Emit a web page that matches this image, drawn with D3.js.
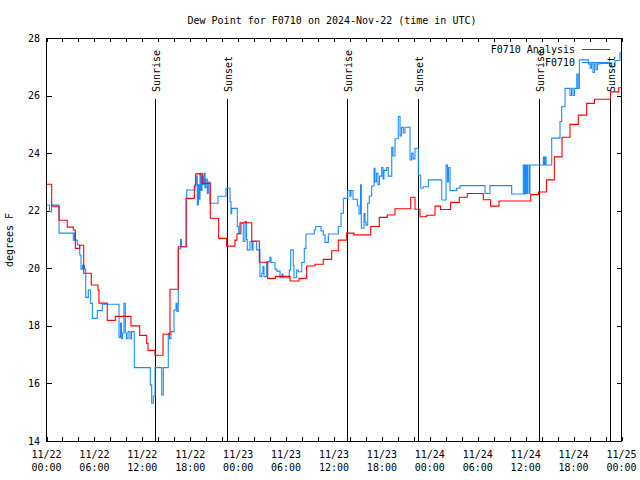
<!DOCTYPE html>
<html><head><meta charset="utf-8">
<script src="https://cdn.jsdelivr.net/npm/d3@7/dist/d3.min.js"></script>
<style>body{margin:0;background:#fff}svg{display:block}</style>
</head><body>
<svg id="c" width="640" height="480"></svg>
<script>
const titleText = "Dew Point for F0710 on 2024-Nov-22 (time in UTC)";
const yAxisLabel = "degrees F";
const startUTC = Date.UTC(2024, 10, 22, 0, 0);
const spanHours = 72;
const yTicks = [14, 16, 18, 20, 22, 24, 26, 28];
const legendLabels = ["F0710 Analysis", "F0710"];

// Analysis (red) – hours since 11/22 00:00 UTC, step values (°F)
const analysisHours = [0,0.65,1.57,2.60,3.36,3.61,4.16,4.66,5.61,6.45,6.57,7.61,8.62,10.58,11.67,12.55,12.71,13.59,14.59,15.46,16.50,17.47,18.51,18.68,19.51,20.51,21.56,22.56,23.60,23.85,24.23,25.70,26.65,27.70,28.65,30.49,31.62,32.58,33.62,34.66,35.71,36.54,37.59,38.50,40.60,41.67,42.67,43.64,45.61,46.14,46.77,47.61,48.65,49.34,50.61,51.69,52.69,54.69,55.62,56.66,60.63,61.61,62.61,63.59,64.55,65.55,66.59,67.64,68.62,70.62,71.65];
const analysisValues = [22.92,22.16,21.67,21.43,21.33,20.69,20.8,19.83,19.42,19.24,18.79,18.19,18.33,18.0,17.67,17.39,17.15,16.98,17.71,19.27,20.75,22.43,22.86,23.28,22.95,21.74,21.04,20.77,20.98,21.2,21.58,20.95,20.21,19.65,19.72,19.56,19.65,20.08,20.14,20.31,20.61,20.98,21.22,21.16,21.45,21.77,21.85,22.07,22.47,22.05,21.79,21.84,22.16,22.04,22.29,22.47,22.6,22.38,22.16,22.34,22.56,22.65,23.07,23.87,24.55,25.0,25.32,25.73,25.87,26.13,26.27];

// Observations (blue)
const obsHours = [0,0.38,0.63,1.57,3.36,3.51,3.63,3.86,4.16,4.32,4.51,4.76,4.91,5.23,5.53,5.74,6.36,6.99,9.08,9.27,9.39,9.52,9.70,9.87,10.02,10.21,10.46,10.64,10.99,13.00,13.17,13.37,13.59,14.43,14.63,15.25,15.40,15.59,15.97,16.22,16.34,16.50,16.80,16.90,17.56,18.60,18.72,18.88,19.01,19.10,19.22,19.35,19.47,19.60,19.72,19.85,19.97,20.14,20.26,20.47,21.48,22.48,22.98,23.10,23.19,23.89,24.07,24.36,24.64,24.86,25.04,25.14,25.48,25.73,25.86,26.32,26.73,26.95,27.11,27.23,27.57,27.99,28.11,28.61,28.83,29.24,29.49,29.61,30.40,30.58,30.90,30.99,31.33,31.53,31.96,32.28,32.49,33.53,33.71,34.37,34.66,34.87,35.29,36.54,36.88,37.17,37.72,38.00,38.13,38.38,38.92,39.13,39.32,39.42,39.76,39.88,40.01,40.22,40.42,40.72,41.01,41.13,41.32,41.51,41.70,41.97,42.14,42.26,42.60,42.80,43.23,43.39,43.64,44.05,44.27,44.45,44.68,44.89,45.52,45.73,45.90,46.14,46.56,46.86,47.18,47.81,49.49,50.03,50.21,50.34,50.53,51.36,51.78,54.91,55.53,58.25,59.70,59.85,59.98,60.11,60.23,60.42,60.54,62.21,62.30,62.42,62.55,63.26,64.30,64.51,64.93,65.55,65.74,65.93,66.12,66.40,66.56,66.72,67.84,68.06,68.24,68.43,68.62,68.81,69.00,69.31,70.56,71.18,71.81];
const obsValues = [22.2,21.97,22.2,21.22,20.98,21.22,20.98,20.81,20.46,19.97,20.1,19.97,18.99,19.24,18.78,18.26,18.53,18.75,17.6,18.1,17.55,17.75,18.78,17.75,17.55,17.8,17.55,17.8,16.55,15.95,15.31,15.56,16.55,15.6,16.55,17.74,17.55,17.8,18.55,18.78,18.5,20.67,21.0,20.75,22.72,22.9,23.2,22.2,22.9,22.4,23.3,22.7,23.2,22.9,23.3,22.8,23.1,22.6,23.0,22.26,22.5,22.78,22.31,21.9,22.08,21.45,21.2,21.56,20.93,21.62,21.0,20.64,20.93,20.64,20.93,20.64,19.71,19.83,20.06,19.71,20.23,20.38,20.2,19.97,19.9,19.67,19.8,19.67,19.94,20.64,20.1,19.67,19.94,19.88,20.2,20.69,21.19,21.33,21.45,21.3,21.16,20.9,21.19,21.45,21.91,22.43,22.7,22.5,22.7,22.4,22.17,21.9,22.9,21.39,21.9,21.6,21.5,22.26,22.51,22.86,23.47,23.0,23.3,22.9,23.2,23.5,23.1,23.4,23.5,23.2,24.2,23.9,24.5,25.27,24.6,24.9,24.7,24.9,23.76,24.0,23.8,24.17,23.24,22.78,22.83,23.07,22.37,23.59,23.0,23.5,22.7,22.78,22.87,22.6,22.87,22.58,23.59,22.58,23.59,22.6,23.59,22.6,23.59,23.86,23.59,23.86,23.59,24.52,25.1,25.61,26.25,26.0,26.25,26.0,26.25,26.75,26.25,27.24,27.1,26.95,27.1,26.8,27.1,26.9,27.1,27.12,27.0,27.22,27.49];

const sunEventHours = [13.59, 22.56, 37.67, 46.56, 61.71, 70.56];
const sunEventLabels = ["Sunrise", "Sunset", "Sunrise", "Sunset", "Sunrise", "Sunset"];

const seriesColors = ["#ff0000", "#1a8cff"];
const FONT = "'DejaVu Sans Mono', 'Liberation Mono', monospace";

const svg = d3.select("#c");
const L = 46.5, R = 621.5, T = 38, B = 441;
const HOUR = 3600e3;
const toDate = h => new Date(startUTC + h * HOUR);
const x = d3.scaleUtc().domain([toDate(0), toDate(spanHours)]).range([L, R]);
const y = d3.scaleLinear().domain([14, 28]).range([B, T]);

// title
svg.append("text").attr("x", 332).attr("y", 24).attr("text-anchor", "middle")
  .style("font-family", FONT).style("font-size", "10px").text(titleText);

// y label
svg.append("text").attr("transform", "translate(13,240) rotate(-90)").attr("text-anchor", "middle")
  .style("font-family", FONT).style("font-size", "10px").text(yAxisLabel);

const frame = svg.append("g").attr("shape-rendering", "crispEdges");
// y ticks both sides
yTicks.forEach(v => {
  const yy = Math.round(y(v)) + 0.5;
  frame.append("line").attr("x1", L).attr("x2", L + 5).attr("y1", yy).attr("y2", yy).attr("stroke", "#000");
  frame.append("line").attr("x1", R - 5).attr("x2", R).attr("y1", yy).attr("y2", yy).attr("stroke", "#000");
  svg.append("text").attr("x", 40).attr("y", y(v) + 3.5).attr("text-anchor", "end")
    .style("font-family", FONT).style("font-size", "10px").text(v);
});
// x ticks every 2 hours, labels every 6
const xTicks = d3.utcHour.every(2).range(toDate(0), toDate(spanHours + 0.01));
xTicks.forEach(d => {
  const xx = Math.round(x(d)) + 0.5;
  frame.append("line").attr("x1", xx).attr("x2", xx).attr("y1", B).attr("y2", B - 4).attr("stroke", "#000");
  frame.append("line").attr("x1", xx).attr("x2", xx).attr("y1", T).attr("y2", T + 4).attr("stroke", "#000");
});
const fmtD = d3.utcFormat("%m/%d"), fmtT = d3.utcFormat("%H:%M");
d3.utcHour.every(6).range(toDate(0), toDate(spanHours + 0.01)).forEach(d => {
  const t = svg.append("text").attr("text-anchor", "middle").style("font-family", FONT).style("font-size", "10px");
  t.append("tspan").attr("x", x(d)).attr("y", 458).text(fmtD(d));
  t.append("tspan").attr("x", x(d)).attr("y", 471).text(fmtT(d));
});

// data lines
const line = d3.line().curve(d3.curveStepAfter).x(d => x(toDate(d[0]))).y(d => y(d[1]));
function series(hours, vals) {
  const pts = hours.map((h, i) => [h, vals[i]]);
  pts.push([spanHours, vals[vals.length - 1]]);
  return pts;
}
const plot = svg.append("g");
plot.append("path").datum(series(obsHours, obsValues)).attr("d", line)
  .attr("fill", "none").attr("stroke", seriesColors[1]).attr("stroke-width", 1.1);
plot.append("path").datum(series(analysisHours, analysisValues)).attr("d", line)
  .attr("fill", "none").attr("stroke", seriesColors[0]).attr("stroke-width", 1.1);

// sunrise / sunset lines
sunEventHours.forEach((h, i) => {
  const xx = Math.round(x(toDate(h))) + 0.5;
  frame.append("line").attr("x1", xx).attr("x2", xx).attr("y1", 99).attr("y2", B).attr("stroke", "#000");
  svg.append("text").attr("transform", `translate(${xx + 4.5},92) rotate(-90)`).attr("text-anchor", "start")
    .style("font-family", FONT).style("font-size", "10px").text(sunEventLabels[i]);
});

// legend
legendLabels.forEach((lab, i) => {
  const ly = 49.5 + i * 13;
  svg.append("text").attr("x", 575).attr("y", ly + 3.5).attr("text-anchor", "end")
    .style("font-family", FONT).style("font-size", "10px").text(lab);
  svg.append("line").attr("x1", 582).attr("x2", 610).attr("y1", ly).attr("y2", ly)
    .attr("stroke", seriesColors[i]).attr("stroke-width", 1.1).attr("shape-rendering", "crispEdges");
});

// frame
frame.append("rect").attr("x", L).attr("y", T + 0.5).attr("width", R - L).attr("height", B - T)
  .attr("fill", "none").attr("stroke", "#000");
</script>
</body></html>
